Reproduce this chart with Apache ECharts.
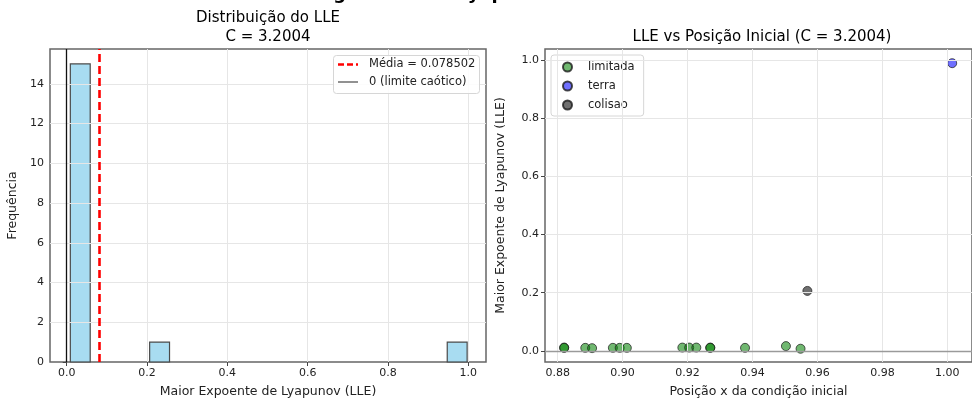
<!DOCTYPE html>
<html>
<head>
<meta charset="utf-8">
<script src="https://cdn.jsdelivr.net/npm/echarts@6/dist/echarts.min.js"></script>
<style>html,body{margin:0;padding:0;background:#fff}#c{width:972px;height:403px}</style>
</head>
<body>
<div id="c"></div>
<script>
// ---- data ----
const histLow = [0.009, 0.2065, 0.9475];
const histHigh = [0.0585, 0.256, 0.997];
const histCounts = [15, 1, 1];
const meanLLE = 0.078502;
const leftXTicks = [0.0, 0.2, 0.4, 0.6, 0.8, 1.0];
const leftYTicks = [0, 2, 4, 6, 8, 10, 12, 14];
const leftLegendNames = ['Média = 0.078502', '0 (limite caótico)'];

const limitadaX = [0.882, 0.882, 0.8885, 0.8906, 0.897, 0.8991, 0.9013, 0.9184, 0.9205, 0.9227, 0.927, 0.927, 0.9377, 0.9503, 0.9548];
const limitadaY = [0.011, 0.010, 0.010, 0.009, 0.010, 0.010, 0.010, 0.011, 0.011, 0.011, 0.011, 0.010, 0.010, 0.016, 0.007];
const terraX = [1.0015];
const terraY = [0.990];
const colisaoX = [0.9569];
const colisaoY = [0.206];
const rightXTicks = [0.88, 0.90, 0.92, 0.94, 0.96, 0.98, 1.00];
const rightYTicks = [0.0, 0.2, 0.4, 0.6, 0.8, 1.0];

const FONT = 'DejaVu Sans';
const gridColor = '#e6e6e6';
const zip = (a, b) => a.map((v, i) => [v, b[i]]);

const chart = echarts.init(document.getElementById('c'), null, {renderer: 'canvas'});

const axisCommon = {
  axisLine: {show: false},
  axisTick: {show: true, length: 4, lineStyle: {color: '#444', width: 1}},
  axisLabel: {color: '#222', fontFamily: FONT, fontSize: 11, margin: 6},
  nameTextStyle: {color: '#222', fontFamily: FONT, fontSize: 12.5},
  nameLocation: 'middle'
};

const option = {
  animation: false,
  backgroundColor: '#fff',
  graphic: [
    {type: 'text', left: 300, top: -15, style: {text: 'Diagnóstico de Lyapunov', font: 'bold 18px "DejaVu Sans"', fill: '#000'}},
    {type: 'text', x: 268, y: 18, style: {text: 'Distribuição do LLE', font: '15px "DejaVu Sans"', fill: '#000', textAlign: 'center', textVerticalAlign: 'middle'}},
    {type: 'text', x: 268, y: 37, style: {text: 'C = 3.2004', font: '15px "DejaVu Sans"', fill: '#000', textAlign: 'center', textVerticalAlign: 'middle'}},
    {type: 'text', x: 762, y: 37, style: {text: 'LLE vs Posição Inicial (C = 3.2004)', font: '15px "DejaVu Sans"', fill: '#000', textAlign: 'center', textVerticalAlign: 'middle'}},
    // left legend (line samples)
    {type: 'rect', z: 10, shape: {x: 333.5, y: 55.5, width: 146, height: 38, r: 3},
      style: {fill: 'rgba(255,255,255,0.85)', stroke: '#d6d6d6', lineWidth: 1}},
    {type: 'line', z: 11, shape: {x1: 338, y1: 64.5, x2: 358, y2: 64.5},
      style: {stroke: '#ff0000', lineWidth: 2.6, lineDash: [6, 3]}},
    {type: 'line', z: 11, shape: {x1: 338, y1: 82, x2: 358, y2: 82},
      style: {stroke: '#555', lineWidth: 1.3}},
    {type: 'text', z: 11, x: 369, y: 64.5, style: {text: leftLegendNames[0], font: '11.5px "DejaVu Sans"', fill: '#222', textVerticalAlign: 'middle'}},
    {type: 'text', z: 11, x: 369, y: 82, style: {text: leftLegendNames[1], font: '11.5px "DejaVu Sans"', fill: '#222', textVerticalAlign: 'middle'}}
  ],
  grid: [
    {left: 50, top: 49, width: 436, height: 315, show: true, borderColor: '#666', borderWidth: 1.5, backgroundColor: 'transparent'},
    {left: 545, top: 49, width: 435, height: 314, show: true, borderColor: '#666', borderWidth: 1.5, backgroundColor: 'transparent'}
  ],
  legend: [
    {
      data: ['limitada', 'terra', 'colisao'],
      formatter: name => '   ' + name,
      orient: 'vertical', left: 551, top: 55, itemGap: 7, itemWidth: 9, itemHeight: 9, icon: 'circle',
      padding: [6, 9, 5, 11], backgroundColor: 'rgba(255,255,255,0.85)', borderColor: '#d6d6d6', borderWidth: 1, borderRadius: 3,
      textStyle: {fontFamily: FONT, fontSize: 11.5, color: '#222'}
    }
  ],
  xAxis: [
    Object.assign({}, axisCommon, {
      gridIndex: 0, type: 'value', min: -0.0416, max: 1.044,
      name: 'Maior Expoente de Lyapunov (LLE)', nameGap: 23,
      splitLine: {show: false},
      axisTick: Object.assign({}, axisCommon.axisTick, {customValues: leftXTicks}),
      axisLabel: Object.assign({}, axisCommon.axisLabel, {customValues: leftXTicks, formatter: v => v.toFixed(1)})
    }),
    Object.assign({}, axisCommon, {
      gridIndex: 1, type: 'value', min: 0.8761, max: 1.0076,
      name: 'Posição x da condição inicial', nameGap: 23,
      splitLine: {show: false},
      axisTick: Object.assign({}, axisCommon.axisTick, {customValues: rightXTicks}),
      axisLabel: Object.assign({}, axisCommon.axisLabel, {customValues: rightXTicks, formatter: v => v.toFixed(2)})
    })
  ],
  yAxis: [
    Object.assign({}, axisCommon, {
      gridIndex: 0, type: 'value', min: 0, max: 15.75,
      name: 'Frequência', nameGap: 31,
      splitLine: {show: false},
      axisTick: Object.assign({}, axisCommon.axisTick, {customValues: leftYTicks}),
      axisLabel: Object.assign({}, axisCommon.axisLabel, {customValues: leftYTicks, formatter: v => String(v)})
    }),
    Object.assign({}, axisCommon, {
      gridIndex: 1, type: 'value', min: -0.0387, max: 1.0388,
      name: 'Maior Expoente de Lyapunov (LLE)', nameGap: 38,
      splitLine: {show: false},
      axisTick: Object.assign({}, axisCommon.axisTick, {customValues: rightYTicks}),
      axisLabel: Object.assign({}, axisCommon.axisLabel, {customValues: rightYTicks, formatter: v => v.toFixed(1)})
    })
  ],
  series: [
    // grid lines left
    {
      type: 'line', xAxisIndex: 0, yAxisIndex: 0, data: [], z: 1, silent: true,
      markLine: {
        silent: true, symbol: 'none', label: {show: false}, animation: false,
        lineStyle: {color: gridColor, width: 1, type: 'solid'},
        data: leftXTicks.map(v => ({xAxis: v})).concat(leftYTicks.slice(1).map(v => ({yAxis: v})))
      }
    },
    // histogram
    {
      type: 'custom', xAxisIndex: 0, yAxisIndex: 0, z: 3,
      data: histLow.map((lo, i) => [lo, histHigh[i], histCounts[i]]),
      encode: {x: [0, 1], y: 2},
      renderItem: function (params, api) {
        const p0 = api.coord([api.value(0), api.value(2)]);
        const p1 = api.coord([api.value(1), 0]);
        return {
          type: 'rect',
          shape: {x: p0[0], y: p0[1], width: p1[0] - p0[0], height: p1[1] - p0[1]},
          style: {fill: 'rgba(135,206,235,0.72)', stroke: '#4a4a4a', lineWidth: 1.2}
        };
      }
    },
    // mean line
    {
      name: leftLegendNames[0], type: 'line', xAxisIndex: 0, yAxisIndex: 0, data: [], z: 5,
      symbol: 'none',
      markLine: {silent: true, symbol: 'none', label: {show: false}, animation: false,
        lineStyle: {color: '#ff0000', width: 2.6, type: [8, 4]}, data: [{xAxis: meanLLE}]}
    },
    // zero line
    {
      name: leftLegendNames[1], type: 'line', xAxisIndex: 0, yAxisIndex: 0, data: [], z: 5,
      symbol: 'none',
      markLine: {silent: true, symbol: 'none', label: {show: false}, animation: false,
        lineStyle: {color: '#111', width: 1.3, type: 'solid'}, data: [{xAxis: 0}]}
    },
    // grid lines right + zero line
    {
      type: 'line', xAxisIndex: 1, yAxisIndex: 1, data: [], z: 1, silent: true,
      markLine: {
        silent: true, symbol: 'none', label: {show: false}, animation: false,
        lineStyle: {color: gridColor, width: 1, type: 'solid'},
        data: rightXTicks.map(v => ({xAxis: v})).concat(rightYTicks.slice(1).map(v => ({yAxis: v})))
          .concat([{yAxis: 0, lineStyle: {color: '#9a9a9a', width: 1.3}}])
      }
    },
    {
      name: 'limitada', type: 'scatter', xAxisIndex: 1, yAxisIndex: 1, z: 4,
      data: zip(limitadaX, limitadaY), symbolSize: 9,
      itemStyle: {color: 'rgba(0,128,0,0.7)', borderColor: '#1a1a1a', borderWidth: 0.9}
    },
    {
      name: 'terra', type: 'scatter', xAxisIndex: 1, yAxisIndex: 1, z: 4,
      data: zip(terraX, terraY), symbolSize: 9,
      itemStyle: {color: 'rgba(0,0,255,0.7)', borderColor: '#1a1a1a', borderWidth: 0.9}
    },
    {
      name: 'colisao', type: 'scatter', xAxisIndex: 1, yAxisIndex: 1, z: 4,
      data: zip(colisaoX, colisaoY), symbolSize: 9,
      itemStyle: {color: 'rgba(0,0,0,0.7)', borderColor: '#1a1a1a', borderWidth: 0.9}
    }
  ]
};
chart.setOption(option);
</script>
</body>
</html>
